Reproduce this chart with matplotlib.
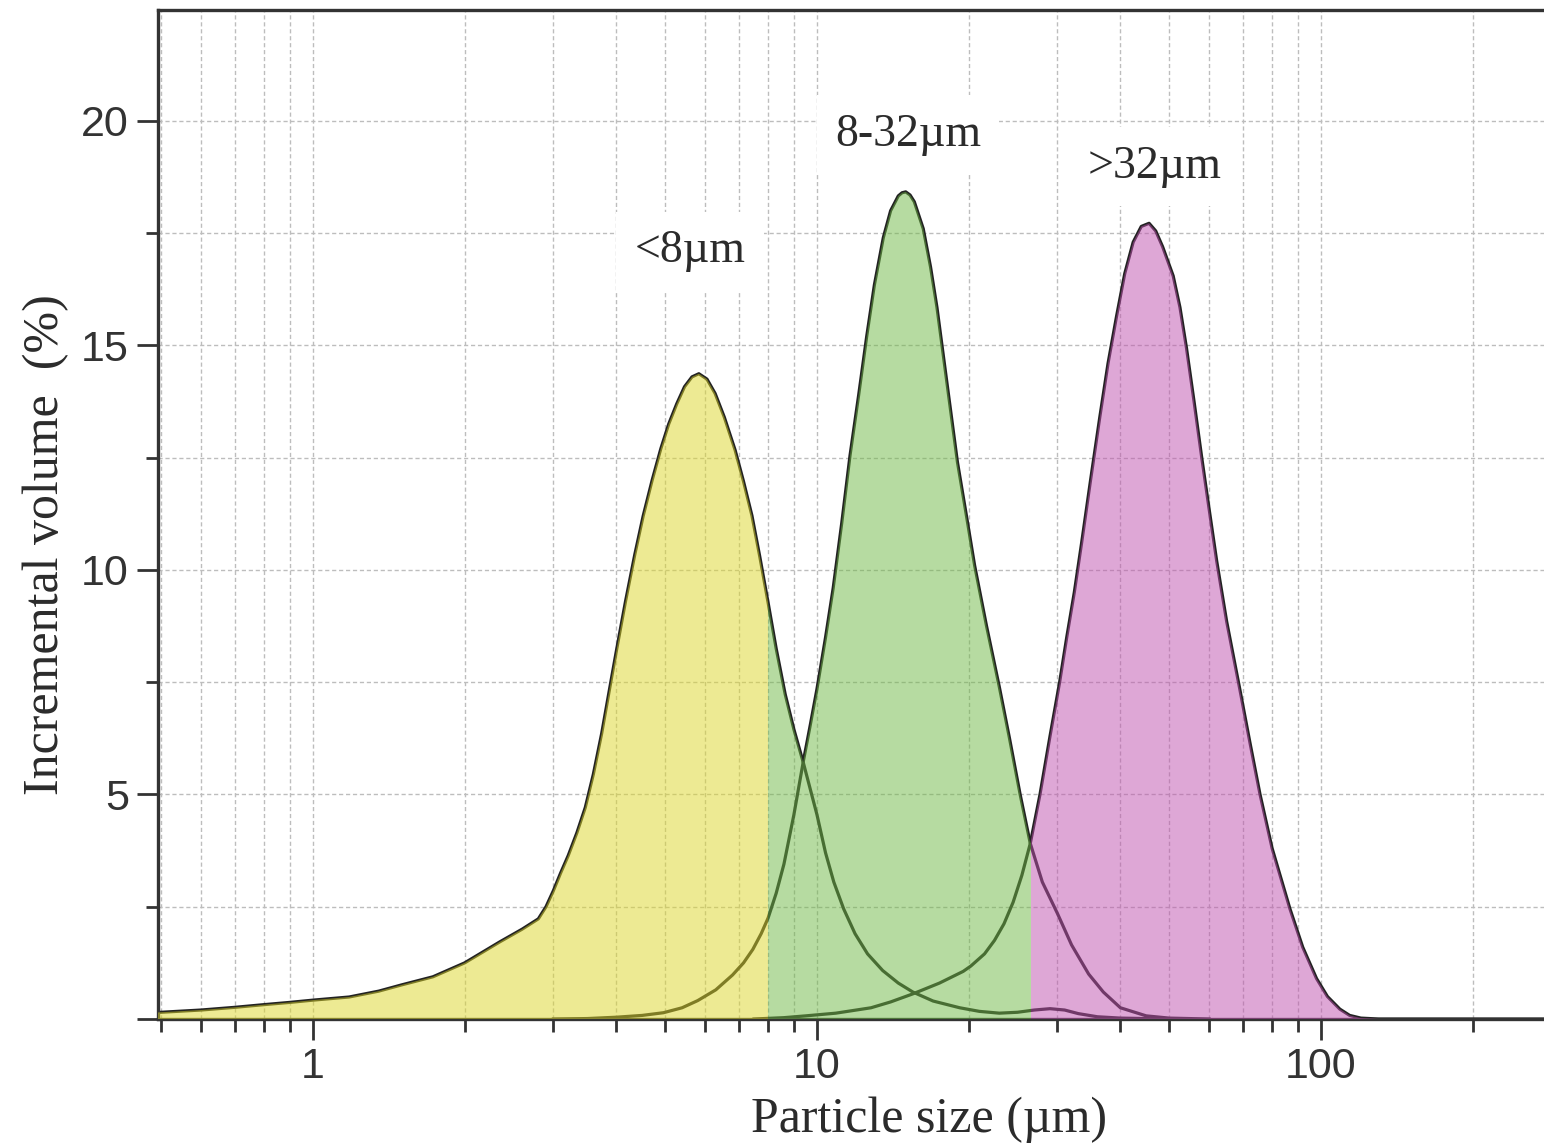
import matplotlib
matplotlib.use("Agg")
from matplotlib import pyplot as plt
from matplotlib.path import Path
from matplotlib.patches import PathPatch, Rectangle
from matplotlib.ticker import LogLocator, MultipleLocator, FuncFormatter, NullFormatter

# <8 um fraction
FINE_X = [0.45, 0.5, 0.6, 0.7, 0.8, 0.9, 1.0, 1.18, 1.35, 1.5, 1.73, 2.0, 2.35, 2.6, 2.8, 2.9, 3.0,
          3.1, 3.21, 3.34, 3.47, 3.6, 3.74, 3.87, 4.0, 4.17, 4.35, 4.52, 4.71, 4.9, 5.08, 5.27,
          5.46, 5.65, 5.83, 6.05, 6.28, 6.55, 6.88, 7.15, 7.43, 7.7, 8.0, 8.3, 8.65, 9.0, 9.4,
          10.0, 10.4, 10.8, 11.3, 11.9, 12.6, 13.5, 14.5, 15.5, 17.0, 19.2, 21.0, 23.0, 25.0,
          27.0, 29.0, 31.0, 33.0, 36.0, 40.0, 50.0]
FINE_Y = [0.12, 0.15, 0.2, 0.26, 0.32, 0.37, 0.42, 0.49, 0.62, 0.76, 0.94, 1.25, 1.72, 2.0, 2.23, 2.5,
          2.86, 3.25, 3.64, 4.15, 4.71, 5.45, 6.36, 7.3, 8.2, 9.3, 10.34, 11.2, 12.0, 12.7, 13.25,
          13.7, 14.08, 14.3, 14.37, 14.25, 13.93, 13.4, 12.67, 11.97, 11.21, 10.3, 9.27, 8.25, 7.23,
          6.45, 5.7, 4.55, 3.7, 3.05, 2.45, 1.9, 1.45, 1.08, 0.8, 0.6, 0.4, 0.25, 0.17, 0.13, 0.15,
          0.2, 0.23, 0.2, 0.12, 0.05, 0.02, 0.0]

# 8-32 um fraction
MID_X = [3.0, 3.5, 4.0, 4.5, 4.96, 5.4, 5.8, 6.3, 6.8, 7.15, 7.46, 7.75, 8.0, 8.3, 8.6, 9.0, 9.4,
         9.7, 10.0, 10.4, 10.77, 11.2, 11.63, 12.1, 12.55, 13.0, 13.54, 14.0, 14.5, 14.75, 15.0,
         15.3, 15.6, 16.25, 16.8, 17.3, 17.8, 18.36, 19.0, 19.8, 20.55, 21.7, 23.0, 24.1, 25.3,
         26.5, 28.0, 30.0, 32.0, 34.6, 37.0, 40.0, 45.0, 50.0, 60.0]
MID_Y = [0.0, 0.01, 0.04, 0.08, 0.14, 0.25, 0.41, 0.65, 0.98, 1.25, 1.55, 1.9, 2.25, 2.8, 3.45, 4.55,
         5.75, 6.55, 7.35, 8.5, 9.6, 11.05, 12.55, 13.9, 15.2, 16.35, 17.4, 18.0, 18.33, 18.4, 18.42,
         18.35, 18.2, 17.6, 16.75, 15.85, 14.8, 13.66, 12.4, 11.2, 10.1, 8.75, 7.4, 6.25, 5.0, 3.91,
         3.05, 2.35, 1.65, 1.0, 0.6, 0.25, 0.07, 0.02, 0.0]

# >32 um fraction
COARSE_X = [7.5, 8.6, 9.5, 10.9, 12.8, 14.0, 15.5, 17.5, 19.5, 20.2, 21.5, 22.5, 23.5, 24.5, 25.5,
            26.5, 27.7, 29.0, 30.3, 31.3, 32.4, 33.5, 34.9, 36.4, 37.8, 39.3, 40.8, 42.4, 44.0,
            45.6, 47.0, 48.5, 50.9, 52.5, 54.1, 56.0, 58.0, 60.0, 62.1, 65.0, 69.0, 72.3, 75.7,
            80.0, 86.8, 92.0, 98.0, 103.0, 109.0, 114.0, 120.0, 130.0, 300.0]
COARSE_Y = [0.0, 0.03, 0.07, 0.13, 0.25, 0.38, 0.56, 0.8, 1.06, 1.18, 1.45, 1.75, 2.12, 2.6, 3.2,
            3.91, 5.0, 6.3, 7.5, 8.5, 9.5, 10.6, 12.0, 13.4, 14.6, 15.65, 16.6, 17.3, 17.65,
            17.72, 17.55, 17.2, 16.55, 15.85, 14.94, 13.75, 12.5, 11.35, 10.2, 8.85, 7.35, 6.15, 5.0,
            3.8, 2.45, 1.6, 0.9, 0.5, 0.22, 0.08, 0.02, 0.0, 0.0]

LABELS = ["<8µm", "8-32µm", ">32µm"]
CUT_SIZES = [8.0, 26.6]           # where the shading colour changes
FILL_COLORS = ["#DDD729", "#6FB945", "#BF51AF"]

XLIM = (0.4927, 277)
YLIM = (0, 22.47)

SERIF = "Liberation Serif"
SANS = "Liberation Sans"
INK = "#2b2b2b"


def envelope_patch(ax, curves, x0, x1, color):
    # one compound path so overlapping curves are shaded only once (non-zero winding)
    verts, codes = [], []
    for xs, ys in curves:
        pts = list(zip(xs, ys)) + [(xs[-1], 0.0), (xs[0], 0.0), (xs[0], ys[0])]
        verts += pts
        codes += [Path.MOVETO] + [Path.LINETO] * (len(pts) - 2) + [Path.CLOSEPOLY]
    patch = PathPatch(Path(verts, codes), facecolor=color, edgecolor="none", alpha=0.5, zorder=3)
    ax.add_patch(patch)
    # a Rectangle clip becomes the clip box of the patch
    patch.set_clip_path(Rectangle((x0, 0), x1 - x0, 40, transform=ax.transData))


fig = plt.figure(figsize=(15.44, 11.48), dpi=100)
ax = fig.add_axes([158 / 1544, 1 - 1019 / 1148, 1 - 158 / 1544, (1019 - 10) / 1148])

curves = [(FINE_X, FINE_Y), (MID_X, MID_Y), (COARSE_X, COARSE_Y)]
for xs, ys in curves:
    ax.plot(xs, ys, color="#222222", lw=2.3, zorder=2, solid_joinstyle="round")

edges = [XLIM[0]] + CUT_SIZES + [400]
for i, color in enumerate(FILL_COLORS):
    envelope_patch(ax, curves, edges[i], edges[i + 1], color)

ax.set_xscale("log")
ax.set_xlim(*XLIM)
ax.set_ylim(*YLIM)

ax.xaxis.set_major_locator(LogLocator(base=10))
ax.xaxis.set_minor_locator(LogLocator(base=10, subs=range(2, 10)))
ax.xaxis.set_major_formatter(FuncFormatter(lambda v, p: f"{v:g}"))
ax.xaxis.set_minor_formatter(NullFormatter())
ax.yaxis.set_major_locator(MultipleLocator(5))
ax.yaxis.set_minor_locator(MultipleLocator(2.5))
ax.yaxis.set_major_formatter(FuncFormatter(lambda v, p: "" if v == 0 else f"{v:g}"))

ax.set_axisbelow(True)
ax.grid(True, which="both", color="#bdbdbd", linestyle=(0, (3, 2)), linewidth=1.0)

ax.tick_params(which="major", direction="out", length=15, width=2, color="#333333",
               labelsize=31, labelcolor="#333333")
ax.tick_params(which="minor", direction="out", length=9, width=2, color="#333333")
ax.tick_params(axis="x", pad=5)
ax.tick_params(axis="y", pad=6)
for lab in ax.get_xticklabels() + ax.get_yticklabels():
    lab.set_family(SANS)

ax.spines["right"].set_visible(False)
for side in ("left", "bottom", "top"):
    ax.spines[side].set_linewidth(2.4)
    ax.spines[side].set_color("#333333")

label_pos = [(5.6, 17.1), (15.16, 19.69), (46.8, 18.98)]
for text, (lx, ly) in zip(LABELS, label_pos):
    ax.text(lx, ly, text, ha="center", va="center", fontsize=33, family=SERIF, color=INK,
            zorder=6, bbox=dict(boxstyle="square,pad=0.4", facecolor="white", edgecolor="none"))

fig.text(929 / 1544, 1 - 1120 / 1148, "Particle size (µm)", ha="center", va="center",
         fontsize=36, family=SERIF, color=INK)
fig.text(46 / 1544, 1 - 545 / 1148, "Incremental volume  (%)", ha="center", va="center",
         rotation=90, fontsize=36, family=SERIF, color=INK)

fig.savefig("out.png", dpi=100)
